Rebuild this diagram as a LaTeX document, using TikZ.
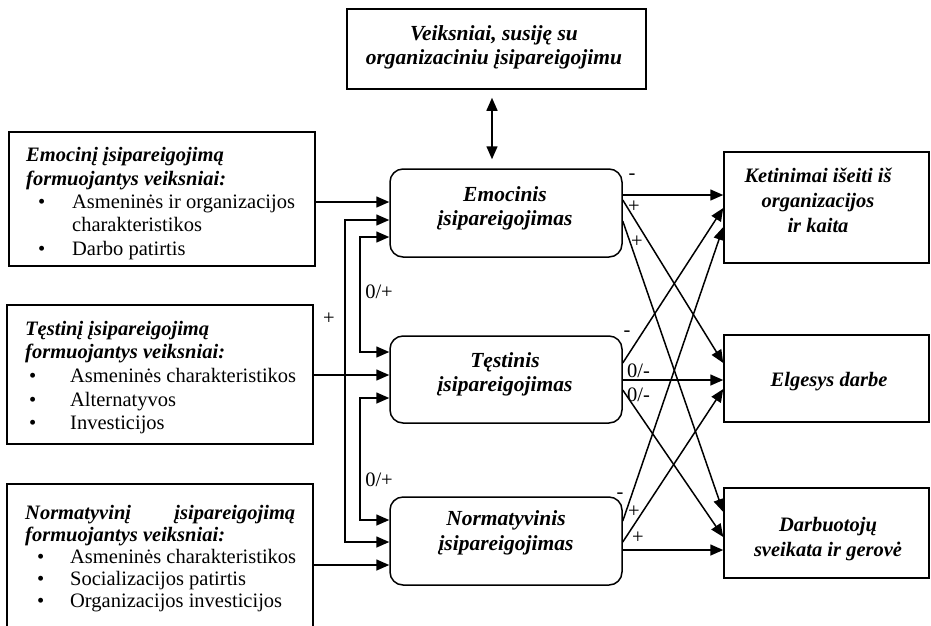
\documentclass[tikz,border=0pt]{standalone}
\usepackage{fontspec}
\setmainfont{Liberation Serif}
\usetikzlibrary{arrows.meta,calc}
\newcommand\mybul[2]{\hspace*{#1}\makebox[#2][l]{\textbullet}}
\begin{document}
\begin{tikzpicture}[x=1pt,y=-1pt,
  box/.style={draw, line width=1.5pt, inner sep=0pt},
  rbox/.style={box, rounded corners=13pt},
  arr/.style={line width=1.5pt, -{Triangle[length=13pt,width=11pt]}},
  darr/.style={line width=1.5pt, {Triangle[length=13pt,width=11pt]}-{Triangle[length=13pt,width=11pt]}},
  lbl/.style={inner sep=0pt, font=\fontsize{20.5}{24}\selectfont},
  ttl/.style={inner sep=0pt, align=center, font=\fontsize{21.5}{24.5}\selectfont\bfseries\itshape},
  ltxt/.style={inner sep=0pt, anchor=west, align=left},
]
\useasboundingbox (0,0) rectangle (931,625);

% boxes
\node[box, minimum width=299pt, minimum height=80pt] (top) at (496.5,49) {};
\node[ttl] (topt) at (494,47.5) {Veiksniai, susiję su\\organizaciniu įsipareigojimu};

\node[box, minimum width=306pt, minimum height=134pt] (b1) at (162,199) {};
\node[box, minimum width=306pt, minimum height=139pt] (b2) at (160,374.5) {};
\node[box, minimum width=306pt, minimum height=166pt] (b3) at (160,567) {};

\node[ltxt, font=\fontsize{20.5}{23.3}\selectfont] (t1) at (26,203.5) {%
  \textbf{\textit{Emocinį įsipareigojimą}}\\
  \textbf{\textit{formuojantys veiksniai:}}\\
  \mybul{12pt}{34pt}Asmeninės ir organizacijos\\
  \hspace*{46pt}charakteristikos\\
  \mybul{12pt}{34pt}Darbo patirtis};
\node[ltxt, font=\fontsize{20.5}{23.7}\selectfont] (t2) at (25,377.5) {%
  \textbf{\textit{Tęstinį įsipareigojimą}}\\
  \textbf{\textit{formuojantys veiksniai:}}\\
  \mybul{4pt}{41pt}Asmeninės charakteristikos\\
  \mybul{4pt}{41pt}Alternatyvos\\
  \mybul{4pt}{41pt}Investicijos};
\node[ltxt, font=\fontsize{20.5}{22}\selectfont] (t3) at (25,559) {%
  \makebox[270pt][s]{\textbf{\textit{Normatyvinį įsipareigojimą}}}\\
  \textbf{\textit{formuojantys veiksniai:}}\\
  \mybul{12pt}{33pt}Asmeninės charakteristikos\\
  \mybul{12pt}{33pt}Socializacijos patirtis\\
  \mybul{12pt}{33pt}Organizacijos investicijos};

\node[rbox, minimum width=232pt, minimum height=88pt] (emo) at (506,213) {};
\node[ttl] (emot) at (505,208.5) {Emocinis\\įsipareigojimas};
\node[rbox, minimum width=232pt, minimum height=87pt] (tes) at (506,379.5) {};
\node[ttl] (test) at (505,374.5) {Tęstinis\\įsipareigojimas};
\node[rbox, minimum width=232pt, minimum height=88pt] (nor) at (506,541) {};
\node[ttl] (nort) at (506,533) {Normatyvinis\\įsipareigojimas};

\node[box, minimum width=205pt, minimum height=111pt] (ket) at (826.5,207.5) {};
\node[ttl, font=\fontsize{20.5}{25}\selectfont\bfseries\itshape] (kett) at (818,200) {Ketinimai išeiti iš\\organizacijos\\ir kaita};
\node[box, minimum width=205pt, minimum height=87pt] (elg) at (826.5,378.5) {};
\node[ttl, font=\fontsize{20.5}{25}\selectfont\bfseries\itshape] (elgt) at (829,382) {Elgesys darbe};
\node[box, minimum width=205pt, minimum height=90pt] (dar) at (826.5,533) {};
\node[ttl, font=\fontsize{20.5}{25}\selectfont\bfseries\itshape] (dart) at (828,539.5) {Darbuotojų\\sveikata ir gerovė};

% top double arrow
\draw[darr] ([xshift=-4.5pt,yshift=-8pt]top.south) -- ([xshift=-14pt,yshift=9pt]emo.north);

% left connectors
\coordinate (v1) at (345,380);
\coordinate (v2) at (360,300);
\coordinate (v3) at (360,460);
\draw[arr] ([yshift=-3pt]b1.east) -- ([yshift=11pt]emo.west);
\draw[darr] ([yshift=-7pt]emo.west) -| (v1) |- ([yshift=-1pt]nor.west);
\draw[darr] ([yshift=-24pt]emo.west) -| (v2) |- ([yshift=27.5pt]tes.west);
\draw[arr] ([yshift=-0.5pt]b2.east) -- ([yshift=4.5pt]tes.west);
\draw[darr] ([yshift=-18.5pt]tes.west) -| (v3) |- ([yshift=21pt]nor.west);
\draw[arr] ([yshift=2pt]b3.east) -- ([yshift=-24pt]nor.west);
\node[lbl] (lp) at (329,319) {+};
\node[lbl] (l01) at (379,292) {0/+};
\node[lbl] (l02) at (379,480) {0/+};

% right connectors
\draw[arr] ([yshift=18pt]emo.east) -- ([yshift=12.5pt]ket.west);
\draw[arr] ([yshift=13pt]emo.east) -- ([yshift=15.5pt]elg.west);
\draw[arr] ([yshift=-8pt]emo.east) -- ([yshift=21pt]dar.west);
\draw[arr] ([yshift=16.5pt]tes.east) -- ([yshift=-0.5pt]ket.west);
\draw[arr] ([yshift=-0.5pt]tes.east) -- ([yshift=-1.5pt]elg.west);
\draw[arr] ([yshift=-10.5pt]tes.east) -- ([yshift=-4pt]dar.west);
\draw[arr] ([yshift=20pt]nor.east) -- ([yshift=-19.5pt]ket.west);
\draw[arr] ([yshift=-1pt]nor.east) -- ([yshift=-10.5pt]elg.west);
\draw[arr] ([yshift=-9pt]nor.east) -- ([yshift=-17pt]dar.west);

\node[lbl] (le1) at (632,177) {-};
\node[lbl] (le2) at (634,207) {+};
\node[lbl] (le3) at (637,242) {+};
\node[lbl] (lt1) at (627,334) {-};
\node[lbl] (lt2) at (638.5,371) {0/-};
\node[lbl] (lt3) at (638.5,395) {0/-};
\node[lbl] (ln1) at (620,496) {-};
\node[lbl] (ln2) at (634,512) {+};
\node[lbl] (ln3) at (638,538) {+};
\end{tikzpicture}
\end{document}
